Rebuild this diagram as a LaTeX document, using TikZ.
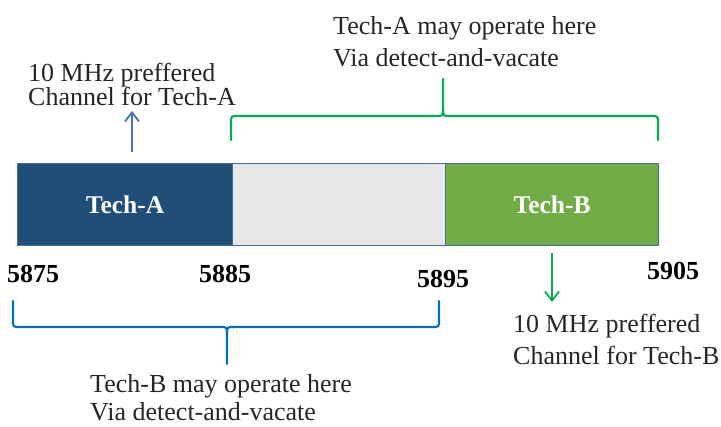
\documentclass[tikz,border=0pt]{standalone}
\usepackage{fontspec}
\setmainfont{Liberation Serif}
\usetikzlibrary{arrows.meta}
\definecolor{techA}{HTML}{1F4E79}
\definecolor{techB}{HTML}{70AD47}
\definecolor{freeband}{HTML}{E7E6E6}
\definecolor{barline}{HTML}{41719C}
\definecolor{arrblue}{HTML}{4472C4}
\definecolor{arrgreen}{HTML}{00B050}
\definecolor{braceblue}{HTML}{0070C0}
\begin{document}
\begin{tikzpicture}[x=1pt,y=-1pt,
  seg/.style={draw=barline, line width=1.2pt, minimum height=82pt, inner sep=0pt, anchor=north west, font=\fontsize{25.5}{30}\selectfont\bfseries, text=white},
  lbl/.style={anchor=base west, inner sep=0pt, font=\fontsize{26}{32}\selectfont, text=black!85},
  freq/.style={anchor=base west, inner sep=0pt, font=\fontsize{26}{32}\selectfont\bfseries, text=black},
  arrowline/.style={line width=1.8pt, -{Straight Barb[length=9pt,width=14pt,line width=1.8pt]}},
  bracepath/.style={line width=2.2pt, line join=round, line cap=round}]
\useasboundingbox (0,0) rectangle (721,427);
\clip (0,0) rectangle (721,427);
% bar segments
\node[seg, fill=techA, minimum width=215pt] (segA) at (17,163) {Tech-A};
\node[seg, fill=freeband, minimum width=213pt] (segF) at (232,163) {};
\node[seg, fill=techB, minimum width=213pt] (segB) at (445,163) {Tech-B};
% frequency labels
\node[freq] (f1) at (7,283) {5875};
\node[freq] (f2) at (199,283) {5885};
\node[freq] (f3) at (417,288) {5895};
\node[freq] (f4) at (647,280) {5905};
% top-left label
\node[lbl] (tlA) at (28,82) {10 MHz preffered};
\node[lbl] (tlB) at (28,106) {Channel for Tech-A};
% top-right label
\node[lbl] (trA) at (333,35) {Tech-A may operate here};
\node[lbl] (trB) at (333,67) {Via detect-and-vacate};
% bottom-right label
\node[lbl] (brA) at (513,333) {10 MHz preffered};
\node[lbl] (brB) at (513,365) {Channel for Tech-B};
% bottom-left label
\node[lbl] (blA) at (90,393) {Tech-B may operate here};
\node[lbl] (blB) at (90,421) {Via detect-and-vacate};
% arrows
\coordinate (aAs) at (132,152);
\coordinate (aAe) at (132,111);
\draw[arrowline, draw=arrblue] (aAs) -- (aAe);
\coordinate (aBs) at (552,253);
\coordinate (aBe) at (552,302);
\draw[arrowline, draw=arrgreen] (aBs) -- (aBe);
% green brace (above)
\draw[bracepath, draw=arrgreen]
  (231,140) -- (231,123) .. controls (231,116) .. (238,116) -- (436,116)
  .. controls (443,116) .. (443,109) -- (443,79);
\draw[bracepath, draw=arrgreen]
  (443,109) .. controls (443,116) .. (450,116) -- (651,116)
  .. controls (658,116) .. (658,123) -- (658,140);
% blue brace (below)
\draw[bracepath, draw=braceblue]
  (13,301) -- (13,320) .. controls (13,327) .. (20,327) -- (220,327)
  .. controls (227,327) .. (227,334) -- (227,364);
\draw[bracepath, draw=braceblue]
  (227,334) .. controls (227,327) .. (234,327) -- (432,327)
  .. controls (439,327) .. (439,320) -- (439,301);
\end{tikzpicture}
\end{document}
